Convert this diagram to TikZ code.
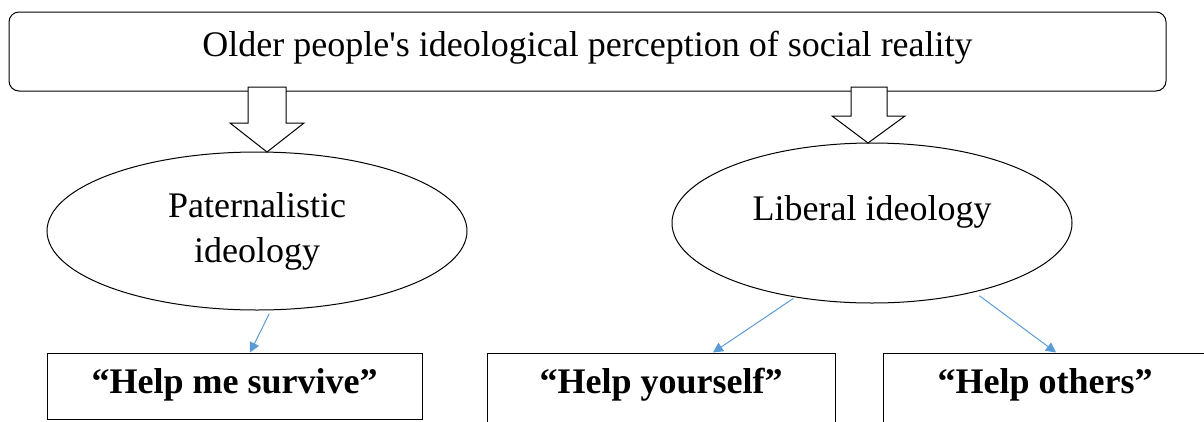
\documentclass[tikz,border=0pt]{standalone}
\usepackage{fontspec}
\setmainfont{Liberation Serif}
\usetikzlibrary{shapes.geometric,arrows.meta}
\definecolor{linkblue}{RGB}{91,155,213}
\begin{document}
\begin{tikzpicture}[x=1pt,y=-1pt,
  outline/.style={draw=black,line width=1pt},
  topbox/.style={outline,rounded corners=10pt,minimum width=1157pt,minimum height=79pt,inner sep=0pt,font=\fontsize{36}{45}\selectfont,text height=24.5pt,text depth=15.5pt},
  ideo/.style={outline,ellipse,inner sep=0pt,font=\fontsize{36}{45}\selectfont,align=center},
  helpbox/.style={outline,rectangle,inner sep=0pt,font=\fontsize{36}{45}\selectfont\bfseries,text height=24.5pt},
  blockarrow/.style={outline,fill=white,line join=miter},
  link/.style={draw=linkblue,line width=1pt,-{Triangle[length=10pt,width=10pt]}}
]
\useasboundingbox (0,0) rectangle (1204,421);
\clip (0,0) rectangle (1204,421);
\node[topbox] (top) at (587.5,51.5) {Older people\textquotesingle s ideological perception of social reality};
\node[ideo,minimum width=420pt,minimum height=158pt] (pat) at (257,231) {Paternalistic\\ideology};
\node[ideo,minimum width=400pt,minimum height=160pt,text height=24.5pt,text depth=30.5pt] (lib) at (872,223) {Liberal ideology};
\node[helpbox,minimum width=375pt,minimum height=66pt,text depth=10.5pt] (survive) at (234.5,386) {“Help me survive”};
\node[helpbox,minimum width=348pt,minimum height=77pt,text depth=21.5pt] (yourself) at (661,391.5) {“Help yourself”};
\node[helpbox,minimum width=324pt,minimum height=77pt,text depth=21.5pt] (others) at (1045,391.5) {“Help others”};
\draw[blockarrow] (248,87) -- (286,87) -- (286,123) -- (304,123) -- (267,152) -- (230,123) -- (248,123) -- cycle;
\draw[blockarrow] (851,87) -- (887,87) -- (887,116) -- (905,116) -- (868,143) -- (832,116) -- (851,116) -- cycle;
\draw[link,shorten <=4pt] (pat.-80) -- ([xshift=15.5pt]survive.north);
\draw[link,shorten <=2pt] (lib.-136) -- ([xshift=52pt]yourself.north);
\draw[link,shorten <=6pt] (lib.-34) -- ([xshift=11pt]others.north);
\end{tikzpicture}
\end{document}
